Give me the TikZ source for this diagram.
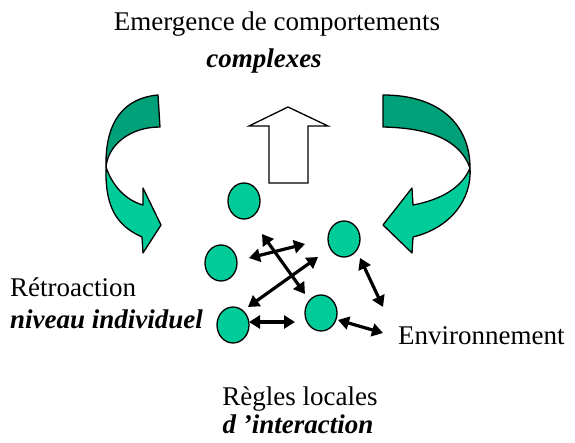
\documentclass[tikz,border=0pt]{standalone}
\usepackage{fontspec}
\setmainfont{Liberation Serif}
\usetikzlibrary{shapes.geometric,arrows.meta}
\definecolor{lightg}{HTML}{00CC99}
\definecolor{darkg}{HTML}{00A078}
\tikzset{
  agent/.style={ellipse, draw=black, line width=1.3pt, fill=lightg, minimum width=32pt, minimum height=36pt, inner sep=0pt},
  dbl/.style={line width=3.2pt, {Triangle[length=11pt,width=13pt]}-{Triangle[length=11pt,width=13pt]}},
  lbl/.style={anchor=base, inner sep=0pt, font=\fontsize{27}{30}\selectfont},
  ribbon/.style={draw=black, line width=1.3pt, line join=round}
}
\begin{document}
\begin{tikzpicture}[x=1pt,y=-1pt]
\useasboundingbox (0,0) rectangle (575,443);
% texts
\node[lbl] (t1) at (277,31) {Emergence de comportements};
\node[lbl] (t2) at (264,68) {\textbf{\textit{complexes}}};
\node[lbl, anchor=base west] (t3) at (10,297) {Rétroaction};
\node[lbl, anchor=base west] (t4) at (10,328) {\textbf{\textit{niveau individuel}}};
\node[lbl, anchor=base west] (t5) at (398,344) {Environnement};
\node[lbl] (t6) at (300,405) {Règles locales};
\node[lbl] (t7) at (298,433) {\textbf{\textit{d ’interaction}}};
% up arrow
\draw[line width=1.3pt, fill=white, line join=miter] (288,107) -- (328,126) -- (308,126) -- (308,183) -- (269,183) -- (269,126) -- (249,126) -- cycle;
% left curved arrow
\filldraw[ribbon, fill=lightg] (106,167) .. controls (112,185) and (125,200) .. (143,205) -- (143,188) -- (161,225) -- (143,253) -- (142,237) .. controls (115,225) and (105,205) .. (106,167) -- cycle;
\filldraw[ribbon, fill=darkg] (106,167) .. controls (105,120) and (125,98) .. (158,95) -- (160,127) .. controls (130,127) and (108,145) .. (106,167) -- cycle;
% right curved arrow
\filldraw[ribbon, fill=lightg] (470,168) .. controls (472,200) and (450,228) .. (413,237) -- (412,253) -- (383,225) -- (412,188) -- (413,205) .. controls (440,200) and (462,188) .. (470,168) -- cycle;
\filldraw[ribbon, fill=darkg] (383,95) .. controls (440,95) and (470,125) .. (470,168) .. controls (460,140) and (430,128) .. (383,127) -- cycle;
% agents
\node[agent] (c1) at (244,201) {};
\node[agent] (c2) at (221,263) {};
\node[agent] (c3) at (344,239) {};
\node[agent] (c4) at (233,325) {};
\node[agent] (c5) at (321,313) {};
% arrow endpoints
\coordinate (p1a) at (262,234); \coordinate (p1b) at (305,294);
\coordinate (p2a) at (249,258); \coordinate (p2b) at (305,244);
\coordinate (p3a) at (248,307); \coordinate (p3b) at (318,257);
\coordinate (p4a) at (249,322); \coordinate (p4b) at (295,322);
\coordinate (p5a) at (360,258); \coordinate (p5b) at (383,307);
\coordinate (p6a) at (338,320); \coordinate (p6b) at (383,333);
\draw[dbl] (p1a) -- (p1b);
\draw[dbl] (p2a) -- (p2b);
\draw[dbl] (p3a) -- (p3b);
\draw[dbl] (p4a) -- (p4b);
\draw[dbl] (p5a) -- (p5b);
\draw[dbl] (p6a) -- (p6b);
\end{tikzpicture}
\end{document}
